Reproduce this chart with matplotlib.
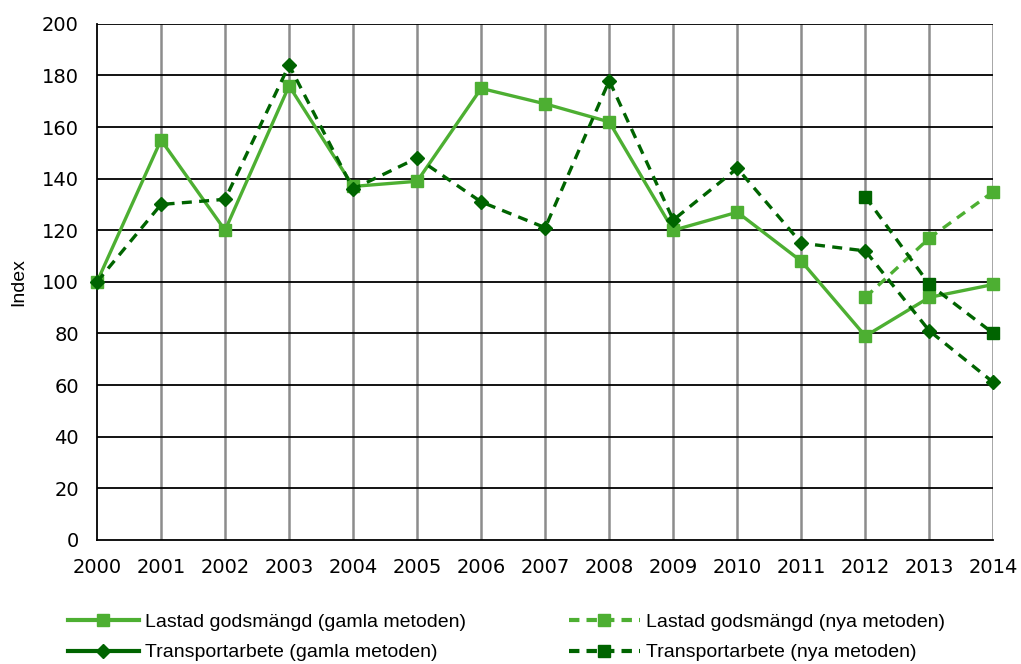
import matplotlib.pyplot as plt
from matplotlib.lines import Line2D

plt.rcParams['font.family'] = ['Liberation Sans', 'DejaVu Sans']

years = list(range(2000, 2015))
lastad_gamla = [100, 155, 120, 176, 137, 139, 175, 169, 162, 120, 127, 108, 79, 94, 99]
transport_gamla = [100, 130, 132, 184, 136, 148, 131, 121, 178, 124, 144, 115, 112, 81, 61]
nya_years = [2012, 2013, 2014]
lastad_nya = [94, 117, 135]
transport_nya = [133, 99, 80]

light = '#4daf32'
dark = '#006400'
dash = (0, (3, 2.2))

fig = plt.figure(figsize=(10.21, 6.64), dpi=100)
ax = fig.add_axes([0.095, 0.187, 0.878, 0.777])

ax.plot(years, lastad_gamla, color=light, lw=2.4, marker='s', ms=8.5, clip_on=False, zorder=3)
ax.plot(years, transport_gamla, color=dark, lw=2.4, ls=dash, marker='D', ms=7.5,
        clip_on=False, zorder=4)
ax.plot(nya_years, lastad_nya, color=light, lw=2.4, ls=dash, marker='s', ms=8.5,
        clip_on=False, zorder=3)
ax.plot(nya_years, transport_nya, color=dark, lw=2.4, ls=dash, marker='s', ms=8.5,
        clip_on=False, zorder=4)

ax.set_xlim(2000, 2014)
ax.set_ylim(0, 200)
ax.set_xticks(years)
ax.set_yticks(range(0, 201, 20))
ax.tick_params(length=0, pad=13)
for lab in ax.get_xticklabels() + ax.get_yticklabels():
    lab.set_fontfamily('DejaVu Sans')
    lab.set_fontsize(14)
ax.set_ylabel('Index', fontsize=14)
ax.yaxis.set_label_coords(-0.078, 0.5)

for y in range(20, 201, 20):
    ax.axhline(y, color='black', lw=1.3, zorder=1)
for x in years[1:]:
    ax.axvline(x, color='#8c8c8c', lw=1.8, zorder=0)

for s in ['top', 'right']:
    ax.spines[s].set_visible(False)
for s in ['left', 'bottom']:
    ax.spines[s].set_color('black')
    ax.spines[s].set_linewidth(1.3)

handles = [
    Line2D([], [], color=light, lw=3, marker='s', ms=8),
    Line2D([], [], color=dark, lw=3, marker='D', ms=7),
    Line2D([], [], color=light, lw=3, ls=(0, (2.5, 1.7)), marker='s', ms=8),
    Line2D([], [], color=dark, lw=3, ls=(0, (2.5, 1.7)), marker='s', ms=8),
]
labels = ['Lastad godsmängd (gamla metoden)', 'Transportarbete (gamla metoden)',
          'Lastad godsmängd (nya metoden)', 'Transportarbete (nya metoden)']
fig.legend(handles, labels, ncol=2, loc='upper left', bbox_to_anchor=(68 / 1021, 1 - 613 / 664),
           frameon=False, fontsize=14, handlelength=3.65, columnspacing=5.3,
           labelspacing=0.68, handletextpad=0.3, borderpad=0, borderaxespad=0)

fig.savefig('out.png', dpi=100)
